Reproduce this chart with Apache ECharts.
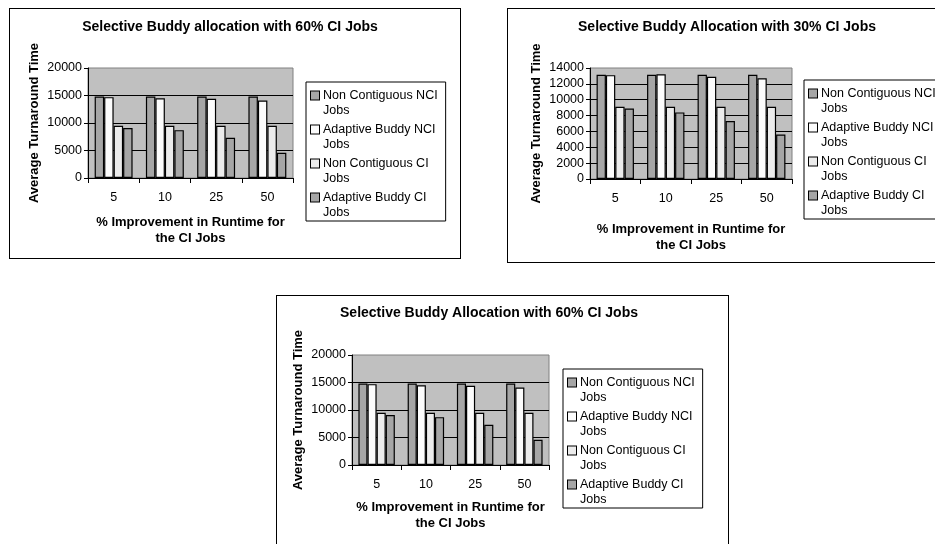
<!DOCTYPE html>
<html>
<head>
<meta charset="utf-8">
<script src="https://cdn.jsdelivr.net/npm/echarts@6/dist/echarts.min.js"></script>
<style>
html, body { margin: 0; padding: 0; background: #fff; width: 935px; height: 544px; overflow: hidden; position: relative; }
.box { position: absolute; border: 1px solid #000; box-sizing: border-box; background: #fff; }
</style>
</head>
<body>
<div id="c1" class="box" style="left:9px;top:8px;width:452px;height:251px"></div>
<div id="c2" class="box" style="left:507px;top:8px;width:452px;height:255px"></div>
<div id="c3" class="box" style="left:276px;top:295px;width:453px;height:262px"></div>
<script>
// data
var categories = ['5', '10', '25', '50'];
var seriesNames = ['Non Contiguous NCI Jobs', 'Adaptive Buddy NCI Jobs', 'Non Contiguous CI Jobs', 'Adaptive Buddy CI Jobs'];
var barColors = ['#a6a6a6', '#fcfcfc', '#ececec', '#a6a6a6'];

// 60% CI jobs (top left and bottom panels)
var ci60NonContigNci = [14800, 14800, 14800, 14800];
var ci60AdaptiveNci = [14700, 14500, 14400, 14100];
var ci60NonContigCi = [9500, 9500, 9500, 9500];
var ci60AdaptiveCi = [9100, 8700, 7300, 4600];

// 30% CI jobs (top right panel)
var ci30NonContigNci = [13150, 13150, 13150, 13150];
var ci30AdaptiveNci = [13100, 13200, 12900, 12700];
var ci30NonContigCi = [9100, 9100, 9100, 9100];
var ci30AdaptiveCi = [8900, 8400, 7300, 5600];

var fontFam = '"Liberation Sans", Arial, sans-serif';

function legendRich() {
  var rich = {
    gap: { width: 4 },
    ind: { width: 12 },
    t: { fontSize: 12.5, lineHeight: 15, color: '#000', fontFamily: fontFam }
  };
  barColors.forEach(function (c, i) {
    rich['s' + i] = { width: 8, height: 8, backgroundColor: c, borderColor: '#000', borderWidth: 1, verticalAlign: 'middle' };
  });
  return rich;
}

function makeChart(dom, cfg) {
  var myChart = echarts.init(dom);
  var series = cfg.data.map(function (d, i) {
    return {
      name: seriesNames[i],
      type: 'bar',
      barGap: '0%',
      barCategoryGap: '26%',
      itemStyle: { color: barColors[i], borderColor: '#000', borderWidth: 1.2 },
      data: d
    };
  });
  var option = {
    animation: false,
    textStyle: { fontFamily: fontFam },
    title: {
      text: cfg.title,
      left: cfg.titleX,
      top: cfg.titleTop,
      textAlign: 'center',
      padding: 0,
      textStyle: { fontSize: 14, fontWeight: 'bold', color: '#000', fontFamily: fontFam }
    },
    grid: {
      left: cfg.grid[0], top: cfg.grid[1], width: cfg.grid[2], height: cfg.grid[3],
      show: true,
      backgroundColor: '#c0c0c0',
      borderColor: '#808080',
      borderWidth: 1
    },
    legend: {
      orient: 'vertical',
      left: cfg.legend[0],
      top: cfg.legend[1],
      icon: 'none',
      itemWidth: 0,
      itemHeight: 10,
      itemGap: 6,
      padding: [7, 8, 2, 0],
      borderColor: '#000',
      borderWidth: 1,
      backgroundColor: '#fff',
      selectedMode: false,
      data: seriesNames,
      formatter: function (name) {
        var i = seriesNames.indexOf(name);
        var head = name.replace(/ Jobs$/, '');
        return '{s' + i + '|}{gap|}{t|' + head + '}\n{ind|}{t|Jobs}';
      },
      textStyle: { rich: legendRich() }
    },
    xAxis: {
      type: 'category',
      data: categories,
      name: '% Improvement in Runtime for\nthe CI Jobs',
      nameLocation: 'middle',
      nameGap: cfg.xNameGap,
      nameTextStyle: { fontSize: 13, fontWeight: 'bold', color: '#000', lineHeight: 15.5, fontFamily: fontFam },
      axisLine: { lineStyle: { color: '#000', width: 1 } },
      axisTick: { show: true, length: 5, lineStyle: { color: '#000' } },
      axisLabel: { color: '#000', fontSize: 12.5, margin: 13 },
      splitLine: { show: false }
    },
    yAxis: {
      type: 'value',
      min: 0,
      max: cfg.yMax,
      interval: cfg.yStep,
      name: 'Average Turnaround Time',
      nameLocation: 'middle',
      nameGap: cfg.yNameGap,
      nameTextStyle: { fontSize: 13, fontWeight: 'bold', color: '#000', fontFamily: fontFam },
      axisLine: { show: true, lineStyle: { color: '#000', width: 1 } },
      axisTick: { show: true, length: 4, lineStyle: { color: '#000' } },
      axisLabel: {
        color: '#000', fontSize: 12.5, margin: 6,
        formatter: function (v) { return String(v); }
      },
      splitLine: { show: true, showMinLine: false, showMaxLine: false, lineStyle: { color: '#000', width: 1 } }
    },
    series: series
  };
  myChart.setOption(option);
}

makeChart(document.getElementById('c1'), {
  title: 'Selective Buddy allocation with 60% CI Jobs',
  titleX: 220, titleTop: 11,
  grid: [78, 59, 205, 110],
  legend: [296, 73],
  xNameGap: 37, yNameGap: 47,
  yMax: 20000, yStep: 5000,
  data: [ci60NonContigNci, ci60AdaptiveNci, ci60NonContigCi, ci60AdaptiveCi]
});

makeChart(document.getElementById('c2'), {
  title: 'Selective Buddy Allocation with 30% CI Jobs',
  titleX: 219, titleTop: 11,
  grid: [82, 59, 202, 111],
  legend: [296, 71],
  xNameGap: 43, yNameGap: 47,
  yMax: 14000, yStep: 2000,
  data: [ci30NonContigNci, ci30AdaptiveNci, ci30NonContigCi, ci30AdaptiveCi]
});

makeChart(document.getElementById('c3'), {
  title: 'Selective Buddy Allocation with 60% CI Jobs',
  titleX: 212, titleTop: 10,
  grid: [75, 59, 197, 110],
  legend: [286, 73],
  xNameGap: 35, yNameGap: 47,
  yMax: 20000, yStep: 5000,
  data: [ci60NonContigNci, ci60AdaptiveNci, ci60NonContigCi, ci60AdaptiveCi]
});
</script>
</body>
</html>
